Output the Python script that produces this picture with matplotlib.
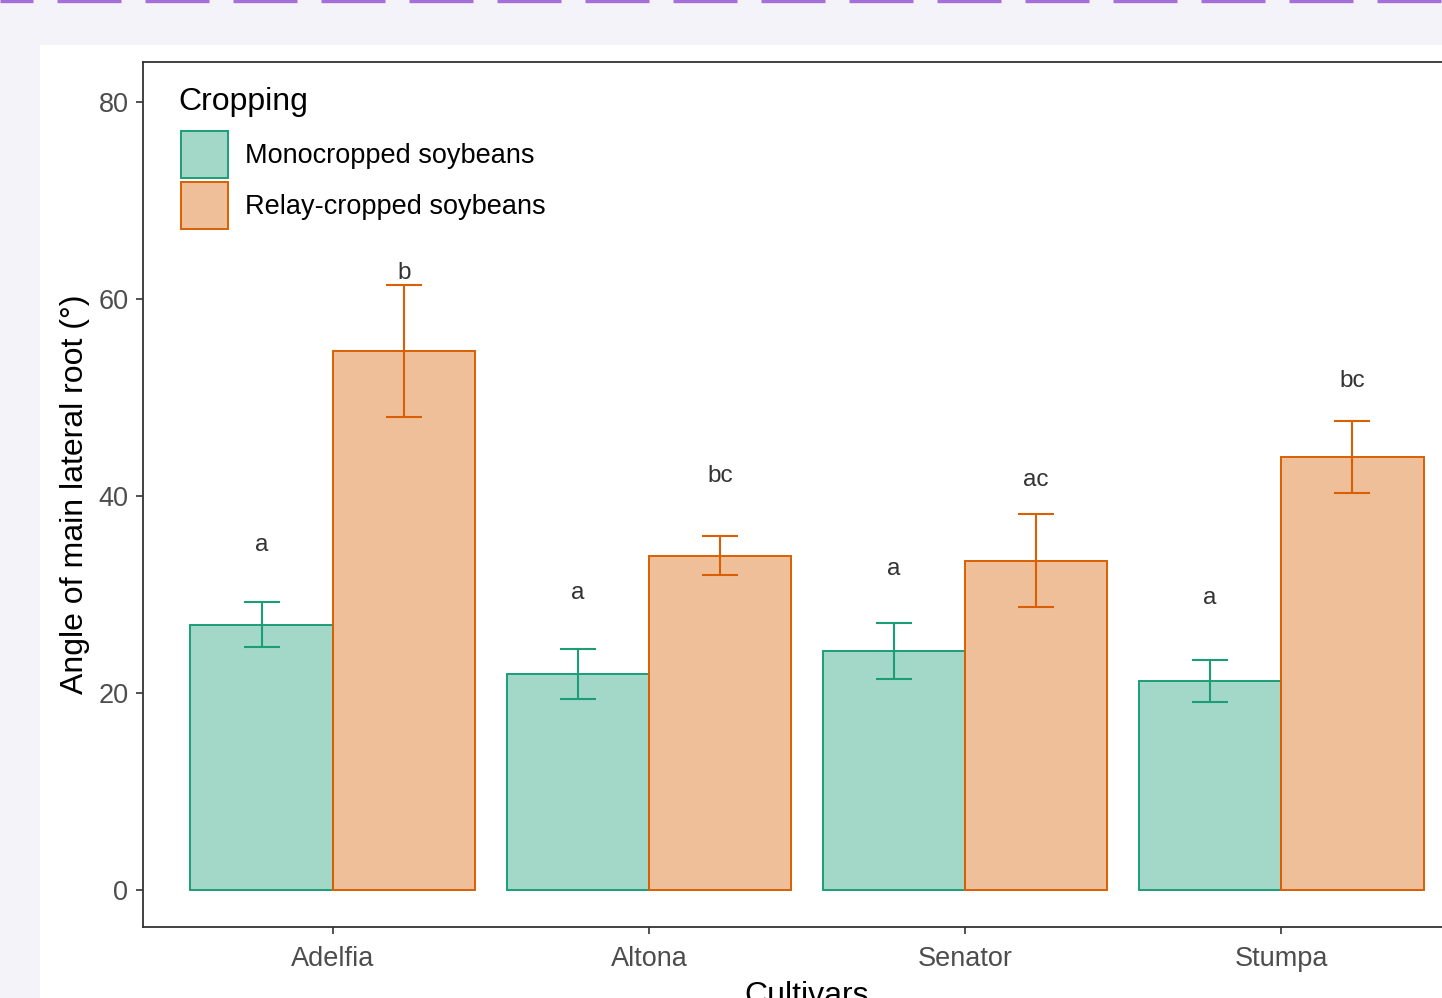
import numpy as np
import matplotlib
matplotlib.use("Agg")
import matplotlib.pyplot as plt
from matplotlib.colors import to_rgba
from matplotlib.lines import Line2D
from matplotlib.patches import Patch, Rectangle

# ------------------------------------------------------------
# Data: root angle by cultivar and cropping system (mean, sd)
# ------------------------------------------------------------
cultivars = ["Adelfia", "Altona", "Senator", "Stumpa"]

mono_mean = [26.9, 21.9, 24.2, 21.2]
mono_sd = [2.3, 2.5, 2.85, 2.15]
mono_letters = ["a", "a", "a", "a"]
mono_letter_y = [35.0, 30.1, 32.6, 29.6]

relay_mean = [54.7, 33.9, 33.4, 43.9]
relay_sd = [6.75, 2.0, 4.7, 3.65]
relay_letters = ["b", "bc", "ac", "bc"]
relay_letter_y = [62.6, 42.0, 41.6, 51.7]

groups = ["Monocropped soybeans", "Relay-cropped soybeans"]
edge_cols = ["#1b9e77", "#d95f02"]

# ------------------------------------------------------------
# Figure setup
# ------------------------------------------------------------
plt.rcParams["font.family"] = ["Liberation Sans", "DejaVu Sans"]
plt.rcParams["lines.scale_dashes"] = False

W, H = 1442, 998
fig = plt.figure(figsize=(W / 100, H / 100), dpi=100)
fig.patch.set_facecolor("#f5f3fa")

# white page panel
fig.patches.append(Rectangle((40 / W, 0), 1, 1 - 45 / H, transform=fig.transFigure,
                             facecolor="white", edgecolor="none", zorder=-5))

# dashed band along the top
fig.lines.append(Line2D([0.0, 1.0], [1 - 1.2 / H, 1 - 1.2 / H], transform=fig.transFigure,
                        color="#a56fd8", lw=2.4, zorder=-4,
                        linestyle=(31 * 0.72, (64 * 0.72, 24 * 0.72))))

ax_left, ax_right, ax_top, ax_bottom = 143, 1471, 62, 927
ax = fig.add_axes([ax_left / W, 1 - ax_bottom / H, (ax_right - ax_left) / W, (ax_bottom - ax_top) / H])
ax.set_facecolor("white")

x = np.arange(1, len(cultivars) + 1)
bw = 0.45

for k, (means, sds, letters, ly) in enumerate([
        (mono_mean, mono_sd, mono_letters, mono_letter_y),
        (relay_mean, relay_sd, relay_letters, relay_letter_y)]):
    xs = x + (k - 0.5) * bw
    ax.bar(xs, means, width=bw, facecolor=to_rgba(edge_cols[k], 0.4),
           edgecolor=edge_cols[k], linewidth=1.4, zorder=2, label=groups[k])
    ax.errorbar(xs, means, yerr=sds, fmt="none", ecolor=edge_cols[k],
                elinewidth=1.5, capsize=13.3, capthick=1.5, zorder=3)
    for xi, yi, t in zip(xs, ly, letters):
        ax.text(xi, yi, t, ha="center", va="center", fontsize=17.5, color="#333333")

ax.set_xlim(0.4, 4.6)
ax.set_ylim(-3.8, 84.05)
ax.set_xticks(x)
ax.set_xticklabels(cultivars)
ax.set_yticks([0, 20, 40, 60, 80])

for s in ax.spines.values():
    s.set_color("#333333")
    s.set_linewidth(1.3)

ax.tick_params(axis="both", direction="out", length=5, width=1.2, color="#333333",
               labelcolor="#4d4d4d", labelsize=19.5)
ax.tick_params(axis="x", pad=9)
ax.tick_params(axis="y", pad=5.5)

ax.set_ylabel("Angle of main lateral root (°)", fontsize=23, color="black")
ax.yaxis.set_label_coords((90 - ax_left) / (ax_right - ax_left), 0.5)
ax.set_xlabel("Cultivars", fontsize=23, color="black", va="top")
ax.xaxis.set_label_coords(0.5, (ax_bottom - 981) / (ax_bottom - ax_top))

# legend: title set as its own text, keys below it
fig.text(178 / W, 1 - 110 / H, "Cropping", fontsize=23, color="black", va="baseline", ha="left")
handles = [Patch(facecolor=to_rgba(c, 0.4), edgecolor=c, linewidth=1.4) for c in edge_cols]
leg = ax.legend(handles, groups, loc="upper left",
                bbox_to_anchor=(181 / W, 1 - 131 / H), bbox_transform=fig.transFigure,
                frameon=False, fontsize=19.5, borderpad=0, borderaxespad=0,
                handlelength=1.73, handleheight=2.3, handletextpad=0.63, labelspacing=0.15)

fig.savefig("out.png", dpi=100, facecolor=fig.get_facecolor())
